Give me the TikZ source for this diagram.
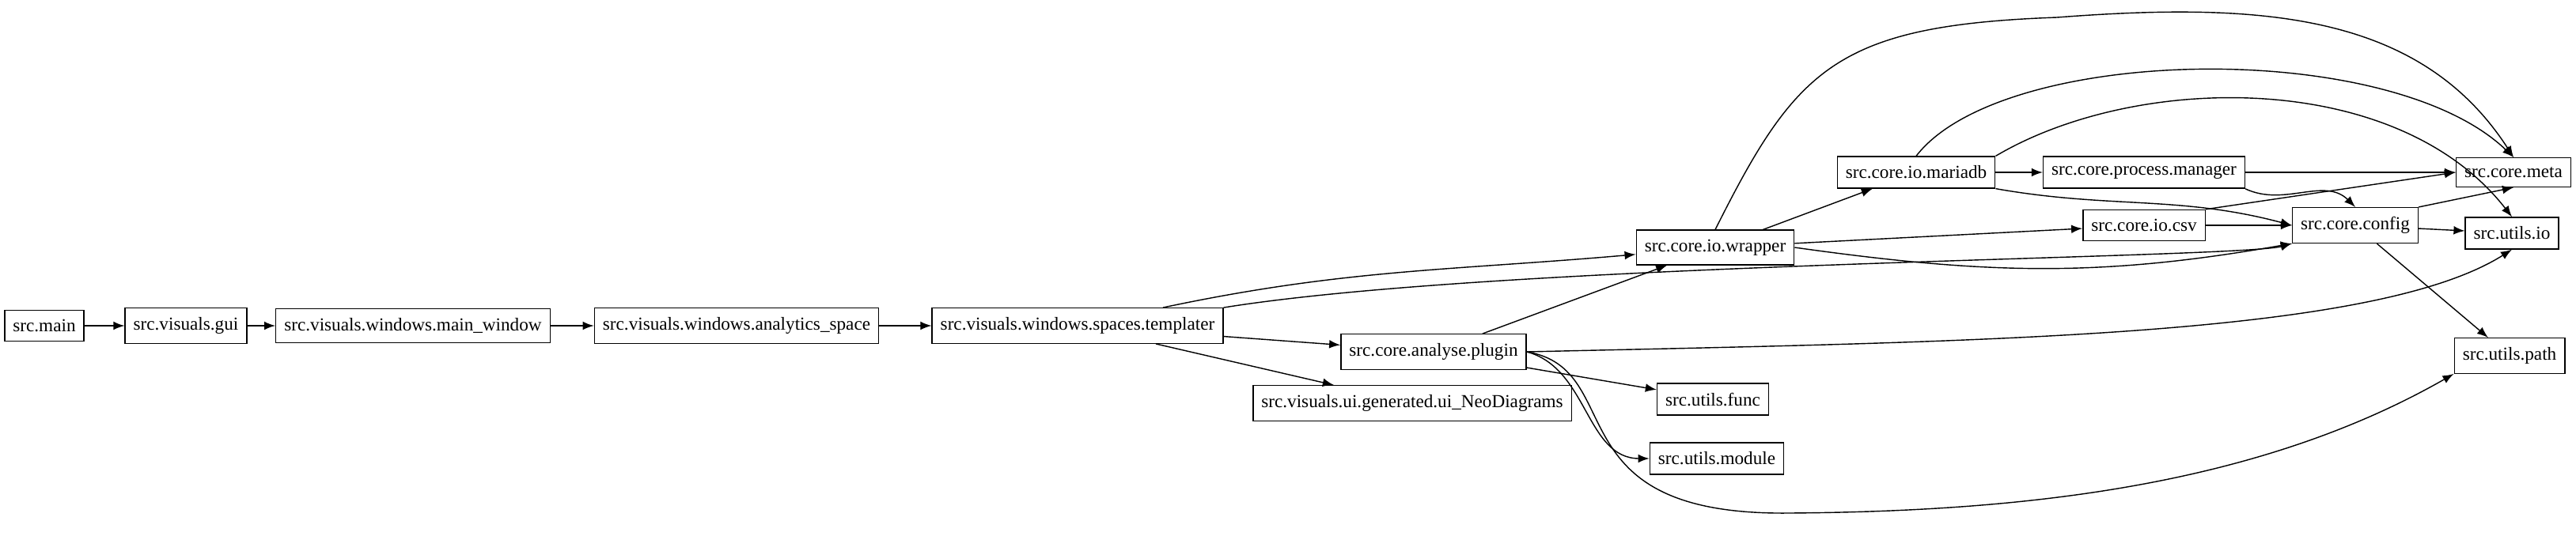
\documentclass[tikz,border=0pt]{standalone}
\usepackage{fontspec}
\setmainfont{Liberation Serif}
\begin{document}
\begin{tikzpicture} [
    >=latex,
    box/.style  = { rectangle, draw=black, inner xsep=3pt,
                    minimum height=0.36cm, font=\fontsize{6.6}{8}\selectfont },
    line/.style = { draw, ->, thin },
  ]
\useasboundingbox (0,0) rectangle (32.56,6.77);

\node [box] (main)      at (0.56,2.65)  {src.main};
\node [box] (gui)       at (2.35,2.65)  {src.visuals.gui};
\node [box] (mainwin)   at (5.22,2.65)  {src.visuals.windows.main\_window};
\node [box] (analytics) at (9.31,2.65)  {src.visuals.windows.analytics\_space};
\node [box] (templater) at (13.62,2.65) {src.visuals.windows.spaces.templater};
\node [box] (plugin)    at (18.12,2.32) {src.core.analyse.plugin};
\node [box] (neo)       at (17.85,1.67) {src.visuals.ui.generated.ui\_NeoDiagrams};
\node [box] (func)      at (21.65,1.72) {src.utils.func};
\node [box] (module)    at (21.70,0.97) {src.utils.module};
\node [box] (wrapper)   at (21.68,3.64) {src.core.io.wrapper};
\node [box] (mariadb)   at (24.22,4.59) {src.core.io.mariadb};
\node [box] (manager)   at (27.10,4.59) {src.core.process.manager};
\node [box] (csv)       at (27.10,3.92) {src.core.io.csv};
\node [box] (config)    at (29.77,3.92) {src.core.config};
\node [box] (meta)      at (31.77,4.59) {src.core.meta};
\node [box] (uio)       at (31.75,3.82) {src.utils.io};
\node [box] (path)      at (31.72,2.27) {src.utils.path};

\begin{scope} [every path/.style=line]
    \path (main)      -- (gui);
    \path (gui)       -- (mainwin);
    \path (mainwin)   -- (analytics);
    \path (analytics) -- (templater);
    \path (templater) to [out=12,in=185] (wrapper);
    \path (templater.north east) .. controls (19,3.45) and (28.3,3.5) .. (config.south west);
    \path (templater) -- (plugin);
    \path (templater) -- (neo);
    \path (plugin)    -- (wrapper);
    \path (plugin.east) .. controls (25,2.45) and (30,2.5) .. (uio.south);
    \path (plugin)    -- (func);
    \path (plugin.east) to [out=-15,in=180] (module);
    \path (plugin.east) .. controls (20.6,2.1) and (19.6,0.25) .. (22.6,0.28)
                        .. controls (25.5,0.3) and (28.5,0.6) .. (path.south west);
    \path (wrapper.north) .. controls (22.7,5.9) and (23.2,6.45) .. (26,6.55)
                          .. controls (28.6,6.75) and (30.6,6.6) .. (meta.north);
    \path (wrapper)   -- (mariadb);
    \path (wrapper)   -- (csv);
    \path (wrapper.east) to [out=-8,in=-170] (config.south west);
    \path (mariadb.north) .. controls (25.3,6.2) and (30.2,6.3) .. (meta.north);
    \path (mariadb.north east) .. controls (27,5.85) and (30.3,5.9) .. (uio.north);
    \path (mariadb)   -- (manager);
    \path (mariadb.south east) to [out=-10,in=165] (config.west);
    \path (manager)   -- (meta);
    \path (manager.south east) to [out=-25,in=135] (config.north);
    \path (csv)       -- (config);
    \path (csv.north east) -- (meta.west);
    \path (config.north east) -- (meta.south);
    \path (config)    -- (uio);
    \path (config)    -- (path);
\end{scope}

\end{tikzpicture}
\end{document}
